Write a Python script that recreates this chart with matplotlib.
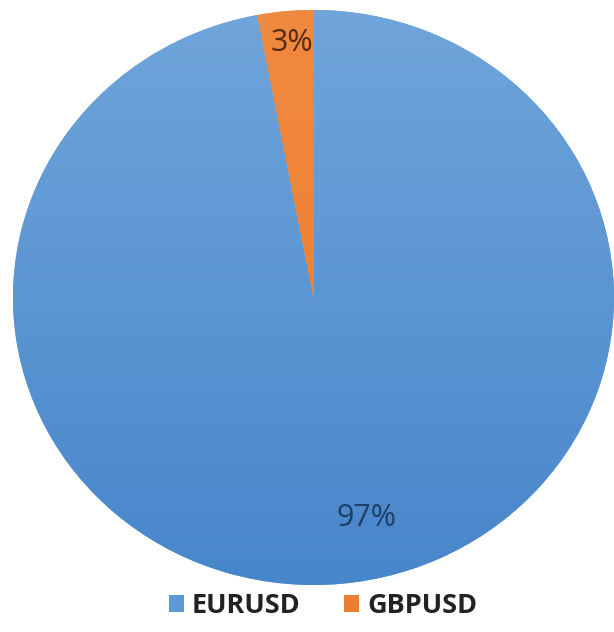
import matplotlib
matplotlib.use("Agg")
import matplotlib.pyplot as plt
import numpy as np
from matplotlib.patches import Patch
from matplotlib.colors import LinearSegmentedColormap

labels = ["EURUSD", "GBPUSD"]
values = [97, 3]
colors = ["#5b9bd5", "#ed7d31"]
label_colors = ["#1e3f66", "#5a2a12"]
# label positions (fraction of radius) in the style of Excel "best fit"
label_pos = [(0.177, -0.767), (-0.07, 0.885)]

W, H = 614, 632
fig = plt.figure(figsize=(W / 100, H / 100), dpi=100)
fig.patch.set_facecolor("white")

left, right, top, bottom = 13, 614, 10, 585
ax = fig.add_axes([left / W, 1 - bottom / H, (right - left) / W, (bottom - top) / H])

wedges, texts, autotexts = ax.pie(
    values, colors=colors, startangle=90, counterclock=False,
    autopct=lambda p: f"{p:.0f}%", pctdistance=0.84,
    textprops=dict(fontsize=22, family=["Open Sans", "DejaVu Sans"]),
    wedgeprops=dict(linewidth=0), frame=False)
ax.set_aspect("auto")
ax.axis("off")

for t, c, p in zip(autotexts, label_colors, label_pos):
    t.set_color(c)
    t.set_zorder(5)
    t.set_position(p)

grad = np.linspace(0, 1, 256).reshape(-1, 1)
cmap_b = LinearSegmentedColormap.from_list("b", ["#4886cb", "#6fa5da"])
im = ax.imshow(grad, cmap=cmap_b, extent=[-1, 1, -1, 1], origin="lower",
               aspect="auto", zorder=1.5)
im.set_clip_path(wedges[0])
cmap_o = LinearSegmentedColormap.from_list("o", ["#ee7a2a", "#f08a40"])
im2 = ax.imshow(grad, cmap=cmap_o, extent=[-1, 1, -1, 1], origin="lower",
                aspect="auto", zorder=1.6)
im2.set_clip_path(wedges[1])
ax.set_xlim(-1, 1)
ax.set_ylim(-1, 1)

handles = [Patch(facecolor=c, edgecolor="none") for c in colors]
leg = fig.legend(handles, labels, loc="center", bbox_to_anchor=(0.526, 1 - 606 / H),
                 ncol=2, frameon=False, handlelength=0.55, handleheight=0.55,
                 handletextpad=0.3, columnspacing=1.6,
                 prop=dict(size=19.5, weight="bold", family=["Open Sans", "DejaVu Sans"]))
for t in leg.get_texts():
    t.set_color("#222222")

fig.savefig("out.png", dpi=100, facecolor="white")
